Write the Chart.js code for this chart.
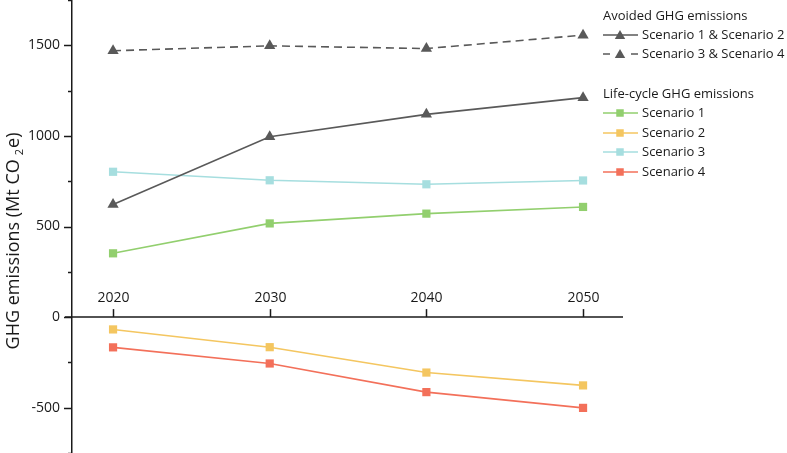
<!DOCTYPE html>
<html>
<head>
<meta charset="utf-8">
<script src="https://cdn.jsdelivr.net/npm/chart.js@4.4.1/dist/chart.umd.min.js"></script>
<style>
  html, body { margin: 0; padding: 0; background: #fff; }
  #wrap { position: relative; width: 787px; height: 453px; }
</style>
</head>
<body>
<div id="wrap"><canvas id="ghg-chart" width="787" height="453"></canvas></div>
<script>
// values (Mt CO2e)
const years = [2020, 2030, 2040, 2050];
const avoidedS12 = [622, 995, 1119, 1211];
const avoidedS34 = [1470, 1497, 1482, 1556];
const lifeS1 = [352, 517, 571, 608];
const lifeS2 = [-68, -166, -306, -377];
const lifeS3 = [802, 755, 733, 754];
const lifeS4 = [-167, -256, -414, -501];
const yLabelValues = [-500, 0, 500, 1000, 1500];

const FONT = "'Open Sans', 'DejaVu Sans', sans-serif";
const INK = "#1a1a1a";
const GREY = "#595959";
const GREEN = "#92cf6e";
const YELLOW = "#f4c660";
const CYAN = "#a6dedf";
const RED = "#f3705a";

function pts(vals) {
  return years.map((yr, i) => ({ x: yr, y: vals[i] }));
}

function series(label, vals, color, style, dashed) {
  return {
    label: label,
    data: pts(vals),
    borderColor: color,
    backgroundColor: color,
    borderWidth: 1.6,
    borderDash: dashed ? [8, 5] : [],
    pointStyle: style,
    pointRadius: style === "triangle" ? 6.5 : 5.8,
    pointBorderWidth: 0,
    pointBackgroundColor: color,
    tension: 0,
    clip: false,
  };
}

// draws a legend marker with the same geometry chart.js uses
function drawMarker(ctx, style, x, y, r, color) {
  ctx.save();
  ctx.fillStyle = color;
  ctx.beginPath();
  if (style === "triangle") {
    const hw = r * Math.sin(Math.PI / 3);
    ctx.moveTo(x, y - r);
    ctx.lineTo(x + hw, y + r / 2);
    ctx.lineTo(x - hw, y + r / 2);
    ctx.closePath();
  } else {
    const s = r * Math.SQRT1_2;
    ctx.rect(x - s, y - s, 2 * s, 2 * s);
  }
  ctx.fill();
  ctx.restore();
}

const axesPlugin = {
  id: "axesPlugin",
  beforeDatasetsDraw(chart) {
    const ctx = chart.ctx;
    const xs = chart.scales.x;
    const ys = chart.scales.y;
    const area = chart.chartArea;
    const y0 = ys.getPixelForValue(0);
    ctx.save();
    ctx.strokeStyle = INK;
    ctx.lineWidth = 1.5;
    // x axis crossing at zero
    ctx.beginPath();
    ctx.moveTo(area.left - 7, y0);
    ctx.lineTo(area.right, y0);
    ctx.stroke();
    ctx.fillStyle = INK;
    ctx.font = "14px " + FONT;
    ctx.textAlign = "center";
    ctx.textBaseline = "middle";
    years.forEach((yr) => {
      const px = Math.round(xs.getPixelForValue(yr)) + 0.5;
      ctx.beginPath();
      ctx.moveTo(px, y0);
      ctx.lineTo(px, y0 - 8);
      ctx.stroke();
      ctx.fillText(String(yr), px, y0 - 19);
    });
    // y tick marks, minor every 250
    for (let v = ys.min; v <= ys.max; v += 250) {
      const py = Math.round(ys.getPixelForValue(v)) + 0.5;
      const len = v % 500 === 0 ? 8 : 4;
      ctx.beginPath();
      ctx.moveTo(area.left - len, py);
      ctx.lineTo(area.left, py);
      ctx.stroke();
    }
    ctx.restore();
  },
  afterDraw(chart) {
    const ctx = chart.ctx;
    const ds = chart.data.datasets;

    // y axis title with subscript
    ctx.save();
    ctx.translate(19, 241);
    ctx.rotate(-Math.PI / 2);
    ctx.fillStyle = INK;
    ctx.textBaseline = "alphabetic";
    ctx.textAlign = "left";
    const big = "18px " + FONT;
    const small = "11px " + FONT;
    const p1 = "GHG emissions (Mt CO";
    const p2 = "2";
    const p3 = "e)";
    ctx.font = big;
    const w1 = ctx.measureText(p1).width;
    const w3 = ctx.measureText(p3).width;
    ctx.font = small;
    const w2 = ctx.measureText(p2).width;
    const gap = 4;
    const total = w1 + gap + w2 + 1 + w3;
    let u = -total / 2;
    ctx.font = big;
    ctx.fillText(p1, u, 0);
    u += w1 + gap;
    ctx.font = small;
    ctx.fillText(p2, u, 4);
    u += w2 + 1;
    ctx.font = big;
    ctx.fillText(p3, u, 0);
    ctx.restore();

    // grouped legend
    const groups = [
      { title: "Avoided GHG emissions", ty: 16, rows: [[0, 35], [1, 54]] },
      { title: "Life-cycle GHG emissions", ty: 94, rows: [[2, 113], [3, 133], [4, 152], [5, 172]] },
    ];
    const lx0 = 603, lx1 = 638, mx = 620, tx = 642;
    ctx.save();
    ctx.font = "13px " + FONT;
    ctx.textBaseline = "middle";
    ctx.textAlign = "left";
    groups.forEach((g) => {
      ctx.fillStyle = INK;
      ctx.fillText(g.title, lx0, g.ty);
      g.rows.forEach(([i, y]) => {
        const d = ds[i];
        ctx.strokeStyle = d.borderColor;
        ctx.lineWidth = 1.6;
        ctx.beginPath();
        if (d.borderDash.length) {
          ctx.moveTo(lx0, y); ctx.lineTo(lx0 + 7, y);
          ctx.moveTo(lx1 - 7, y); ctx.lineTo(lx1, y);
        } else {
          ctx.moveTo(lx0, y); ctx.lineTo(lx1, y);
        }
        ctx.stroke();
        drawMarker(ctx, d.pointStyle, mx, y + (d.pointStyle === "triangle" ? 1 : 0),
          d.pointStyle === "triangle" ? 6 : 5.3, d.pointBackgroundColor);
        ctx.fillStyle = INK;
        ctx.fillText(d.label, tx, y);
      });
    });
    ctx.restore();
  },
};

const ctx = document.getElementById("ghg-chart").getContext("2d");
const ghgChart = new Chart(ctx, {
  type: "line",
  data: {
    datasets: [
      series("Scenario 1 & Scenario 2", avoidedS12, GREY, "triangle", false),
      series("Scenario 3 & Scenario 4", avoidedS34, GREY, "triangle", true),
      series("Scenario 1", lifeS1, GREEN, "rect", false),
      series("Scenario 2", lifeS2, YELLOW, "rect", false),
      series("Scenario 3", lifeS3, CYAN, "rect", false),
      series("Scenario 4", lifeS4, RED, "rect", false),
    ],
  },
  options: {
    responsive: false,
    animation: false,
    layout: { padding: { left: 0, right: 164, top: 0, bottom: 0 }, autoPadding: false },
    plugins: {
      legend: { display: false },
      tooltip: { enabled: false },
    },
    scales: {
      x: {
        type: "linear",
        min: 2017.38,
        max: 2052.55,
        display: false,
      },
      y: {
        type: "linear",
        min: -750,
        max: 1750,
        position: "left",
        border: { display: true, color: INK, width: 1.5 },
        grid: { drawOnChartArea: false, drawTicks: false },
        ticks: {
          stepSize: 250,
          autoSkip: false,
          padding: 12,
          color: INK,
          font: { family: FONT, size: 14 },
          callback: (v) => (yLabelValues.includes(v) ? String(v) : null),
        },
        afterFit: (scale) => {
          scale.width = 72;
          // no extra room above/below the axis: it runs the full height
          scale.paddingTop = 0;
          scale.paddingBottom = 0;
        },
      },
    },
  },
  plugins: [axesPlugin],
});
</script>
</body>
</html>
